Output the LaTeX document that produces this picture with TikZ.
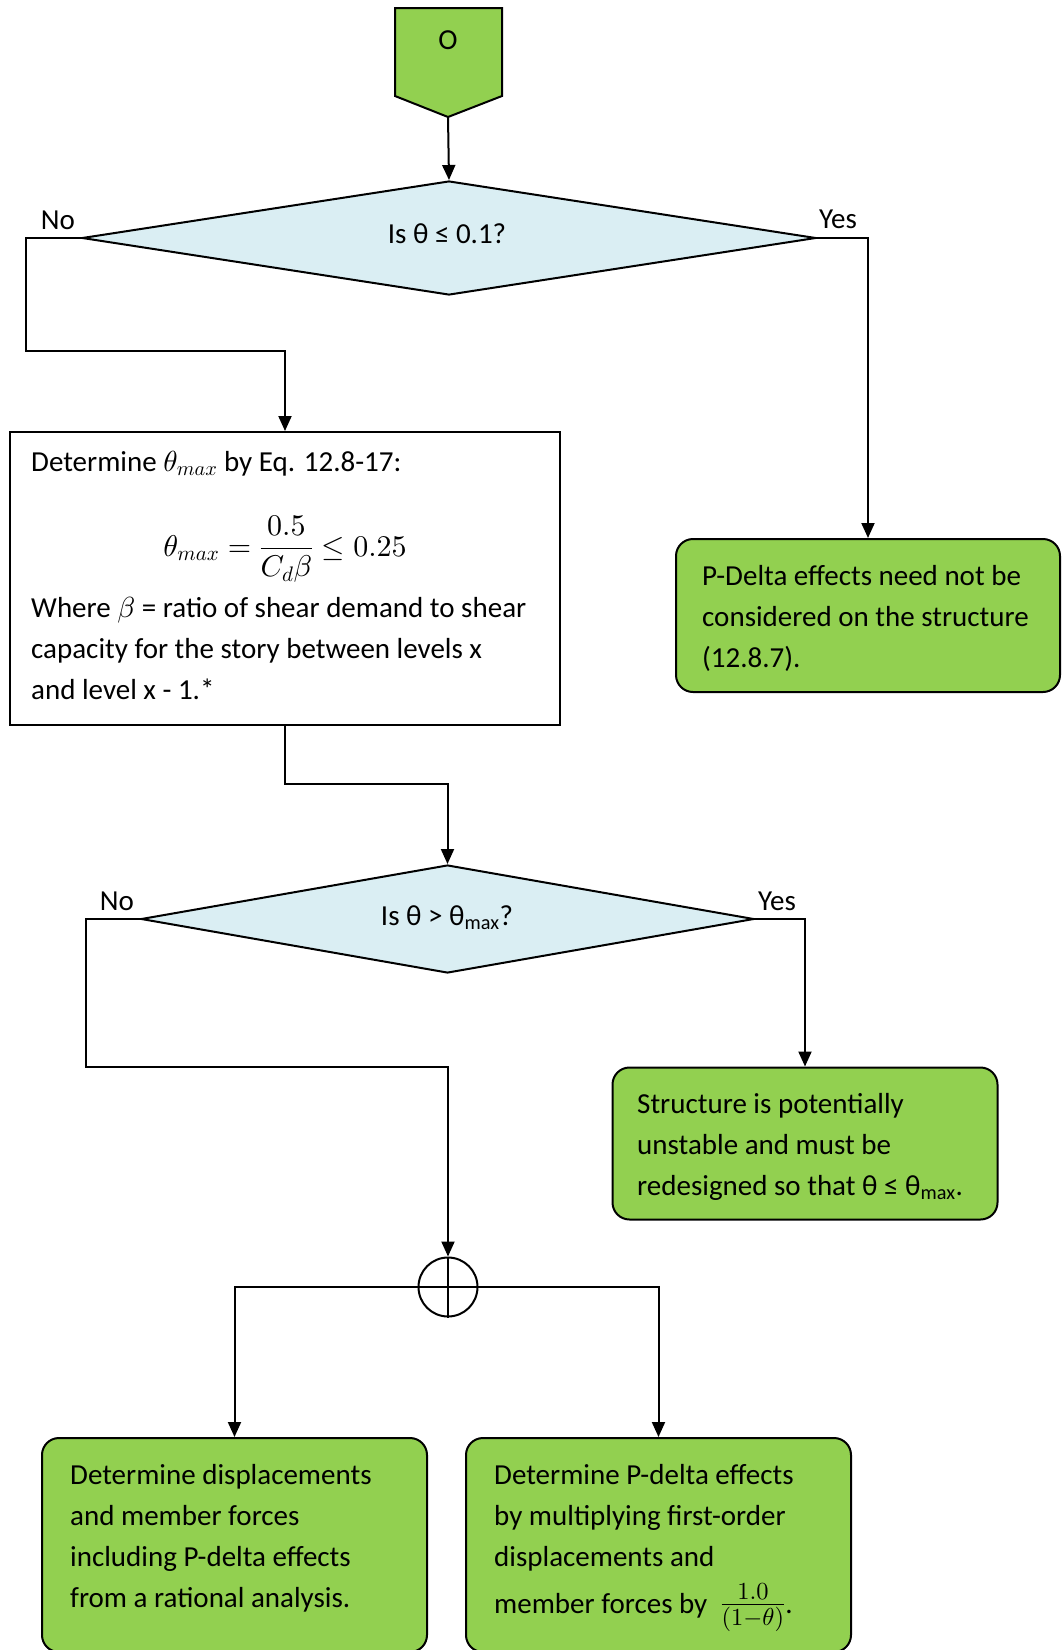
\documentclass[tikz,border=0pt]{standalone}
\usepackage[no-math]{fontspec}
\setmainfont{Carlito}
% scalable Computer Modern shapes for the large math
\DeclareFontShape{OT1}{cmr}{m}{n}{<-8>cmr7<8-10>cmr8<10->cmr10}{}
\DeclareFontShape{OML}{cmm}{m}{it}{<-8>cmmi7<8-10>cmmi8<10->cmmi10}{}
\DeclareFontShape{OMS}{cmsy}{m}{n}{<-8>cmsy7<8-10>cmsy8<10->cmsy10}{}
\DeclareFontShape{OMX}{cmex}{m}{n}{<->cmex10}{}
\usetikzlibrary{shapes.geometric,arrows.meta}
\definecolor{boxgreen}{HTML}{92D050}
\definecolor{decblue}{HTML}{DAEEF3}

\begin{document}
\begin{tikzpicture}[x=1pt,y=-1pt,
  conn/.style={line width=2pt},
  arr/.style={conn,-{Triangle[length=15pt,width=13pt]}},
  txt/.style={font=\fontsize{29}{41}\selectfont,inner sep=0pt,align=left},
  gbox/.style={draw,line width=2pt,fill=boxgreen,rounded corners=17pt,inner sep=0pt},
  wbox/.style={draw,line width=2pt,fill=white,inner sep=0pt},
  dec/.style={diamond,draw,line width=2pt,fill=decblue,inner sep=0pt},
  lbl/.style={font=\fontsize{29}{35}\selectfont,inner sep=0pt}]
\useasboundingbox (0,0) rectangle (1061,1650);

% off-page connector at the top
\draw[line width=2pt,fill=boxgreen] (395,8) -- (502,8) -- (502,96) -- (448,117) -- (395,96) -- cycle;
\coordinate (tip) at (448,117);
\node[txt,anchor=base] (start) at (448,49) {O};

% first decision
\node[dec,minimum width=734pt,minimum height=114pt] (d1) at (449,238) {};
\node[txt,anchor=base] (q1) at (447,243) {Is θ ≤ 0.1?};
\node[lbl,anchor=base] (no1) at (58,229) {No};
\node[lbl,anchor=base] (yes1) at (838,228) {Yes};

% theta_max box (multi-line texts are placed by their last baseline)
\node[wbox,minimum width=550pt,minimum height=293pt] (b1) at (285,578.5) {};
\node[txt,anchor=base west] (t1a) at (31,471) {Determine $\theta_{max}$ by Eq. 12.8-17:};
\node[txt,anchor=base,font=\fontsize{30}{41}\selectfont] (t1b) at (285,556) {$\displaystyle\theta_{max}=\frac{0.5}{C_d\beta}\leq 0.25$};
\node[txt,anchor=base west] (t1c) at (31,699) {Where $\beta$ = ratio of shear demand to shear\\capacity for the story between levels x\\and level x - 1.*};

% no P-delta box
\node[gbox,minimum width=384pt,minimum height=153pt] (b2) at (868,615.5) {};
\node[txt,anchor=base west] (t2) at (702,667) {P-Delta effects need not be\\considered on the structure\\(12.8.7).};

% second decision
\node[dec,minimum width=613pt,minimum height=108pt] (d2) at (447.5,919) {};
\node[txt,anchor=base] (q2) at (447,925) {Is θ > θ\textsubscript{max}?};
\node[lbl,anchor=base] (no2) at (117,910) {No};
\node[lbl,anchor=base] (yes2) at (777,910) {Yes};

% unstable box
\node[gbox,minimum width=385pt,minimum height=152pt] (b3) at (805,1143.5) {};
\node[txt,anchor=base west] (t3) at (637,1195) {Structure is potentially\\unstable and must be\\redesigned so that θ ≤ θ\textsubscript{max}.};

% junction
\node[circle,draw,line width=2pt,minimum size=59pt,inner sep=0pt] (join) at (448,1287) {};
\draw[conn] (join.north) -- (join.south);
\draw[conn] (join.west) -- (join.east);

% bottom boxes
\node[gbox,minimum width=385pt,minimum height=214pt] (b4) at (234.5,1545) {};
\node[txt,anchor=base west] (t4) at (70,1607) {Determine displacements\\and member forces\\including P-delta effects\\from a rational analysis.};
\node[gbox,minimum width=385pt,minimum height=214pt] (b5) at (658.5,1545) {};
\node[txt,anchor=base west] (t5) at (494,1613) {Determine P-delta effects\\by multiplying first-order\\displacements and\\[6pt]member forces by \ {\fontsize{35}{41}\selectfont$\frac{1.0}{(1-\theta)}$}.};

% connectors
\draw[arr] (tip) -- (d1.north);
\draw[arr] (d1.west) -| ++(-55,113) -| (b1.north);
\draw[arr] (d1.east) -| (b2.north);
\draw[arr] (b1.south) -- ++(0,58) -| (d2.north);
\draw[arr] (d2.west) -| ++(-54,148) -| (join.north);
\draw[arr] (d2.east) -| (b3.north);
\draw[arr] (join.west) -| (b4.north);
\draw[arr] (join.east) -| (b5.north);
\end{tikzpicture}
\end{document}
